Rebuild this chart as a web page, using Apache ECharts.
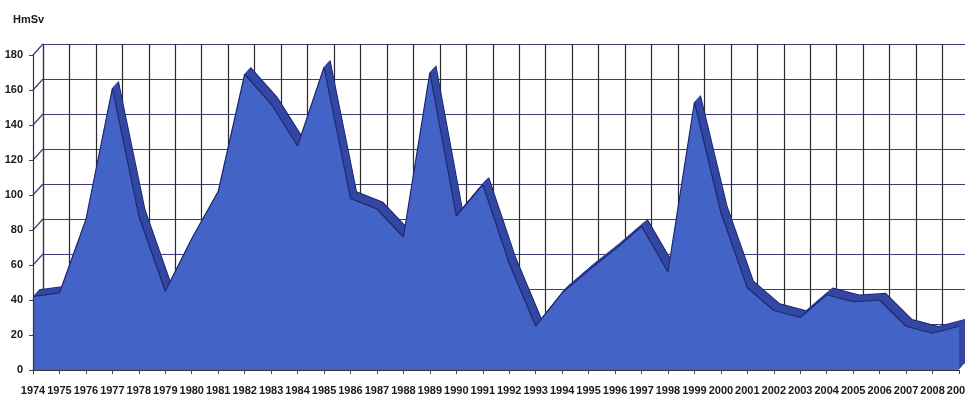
<!DOCTYPE html>
<html>
<head>
<meta charset="utf-8">
<script src="https://cdn.jsdelivr.net/npm/echarts@6/dist/echarts.min.js"></script>
<style>
  html, body { margin: 0; padding: 0; background: #ffffff; }
  #chart { width: 965px; height: 405px; }
</style>
</head>
<body>
<div id="chart"></div>
<script>
// Yearly collective dose, HmSv
const years = ['1974','1975','1976','1977','1978','1979','1980','1981','1982','1983',
  '1984','1985','1986','1987','1988','1989','1990','1991','1992','1993','1994','1995',
  '1996','1997','1998','1999','2000','2001','2002','2003','2004','2005','2006','2007',
  '2008','2009'];
const doseValues = [42, 44, 86, 161, 88, 45, 75, 102, 169, 152,
  128, 173, 98, 92, 76, 170, 88, 106, 61, 25, 44, 57,
  69, 82, 56, 153, 90, 47, 34, 30, 43, 39, 40, 25,
  21, 25];
const unitLabel = 'HmSv';
const yMin = 0, yMax = 180, yStep = 20;
const wallTicks = [0, 20, 40, 60, 80, 100, 120, 140, 160, 180];

const FONT = "'Liberation Sans', Arial, sans-serif";
const FACE = '#4463c6';
const TOP = '#3347a3';
const EDGE = '#1d2870';

// pseudo-3D: the back wall sits WALL_X / WALL_Y pixels behind the front plane,
// the extruded area itself takes part of that depth
const WALL_X = 10, WALL_Y = 11;
const front = { left: 33, top: 55, width: 926, height: 315 };
// 'wall' = back wall grid, numbers = depth fraction of the area layers (0 = front face)
const layers = ['wall', 0.6, 0.5, 0.4, 0.3, 0.2, 0.1, 0];

const grids = [], xAxes = [], yAxes = [], series = [];
layers.forEach((layer, i) => {
  const isWall = layer === 'wall', isFront = layer === 0;
  const t = isWall ? 1 : layer;
  grids.push({
    left: front.left + WALL_X * t,
    top: front.top - WALL_Y * t,
    width: front.width,
    height: front.height,
    outerBoundsMode: 'none'
  });
  xAxes.push({
    gridIndex: i, type: 'category', data: years, boundaryGap: false,
    show: isWall || isFront,
    z: isFront ? 20 : 0,
    axisLine: { show: isFront, lineStyle: { color: '#333', width: 1.2 } },
    axisTick: { show: isFront, length: 4, lineStyle: { color: '#444' } },
    axisLabel: {
      show: isFront, interval: 0, color: '#1a1a1a', fontFamily: FONT,
      fontWeight: 'bold', fontSize: 11, margin: 15
    },
    splitLine: { show: isWall, interval: 0, lineStyle: { color: '#2a2a2a', width: 1.2 } }
  });
  yAxes.push({
    gridIndex: i, type: 'value', min: yMin, max: yMax, interval: yStep,
    show: isWall || isFront,
    z: isFront ? 20 : 0,
    axisLine: { show: true, lineStyle: { color: '#333', width: 1.2 } },
    axisTick: { show: isFront, length: 4, lineStyle: { color: '#444' } },
    axisLabel: {
      show: isFront, color: '#1a1a1a', fontFamily: FONT,
      fontWeight: 'bold', fontSize: 11, margin: 10
    },
    splitLine: { show: isWall, lineStyle: { color: '#3d3d7a', width: 1.2 } }
  });
  if (isWall) return;
  const isBackFace = layer === layers[1];
  series.push({
    type: 'line', xAxisIndex: i, yAxisIndex: i, data: doseValues,
    symbol: 'none', silent: true, z: 2 + i,
    lineStyle: {
      color: (isBackFace || isFront) ? EDGE : TOP,
      width: (isBackFace || isFront) ? 1.2 : 1.5
    },
    areaStyle: { color: isFront ? FACE : TOP, opacity: 1 }
  });
});

// diagonal gridlines on the left side wall, from the front axis to the back wall
const frontIndex = layers.length - 1;
series.push({
  type: 'custom', xAxisIndex: frontIndex, yAxisIndex: frontIndex,
  data: wallTicks, silent: true, z: 1,
  renderItem: (params, api) => {
    const p = api.coord([0, api.value(0)]);
    return {
      type: 'line',
      shape: { x1: p[0], y1: p[1], x2: p[0] + WALL_X, y2: p[1] - WALL_Y },
      style: { stroke: '#3d3d7a', lineWidth: 1.2 }
    };
  },
  encode: { y: 0 }
});

const chart = echarts.init(document.getElementById('chart'), null, { renderer: 'canvas' });
chart.setOption({
  animation: false,
  backgroundColor: '#ffffff',
  title: {
    text: unitLabel, left: 8, top: 9,
    textStyle: { fontFamily: FONT, fontWeight: 'bold', fontSize: 11, color: '#1a1a1a' }
  },
  grid: grids,
  xAxis: xAxes,
  yAxis: yAxes,
  series: series
});
</script>
</body>
</html>
